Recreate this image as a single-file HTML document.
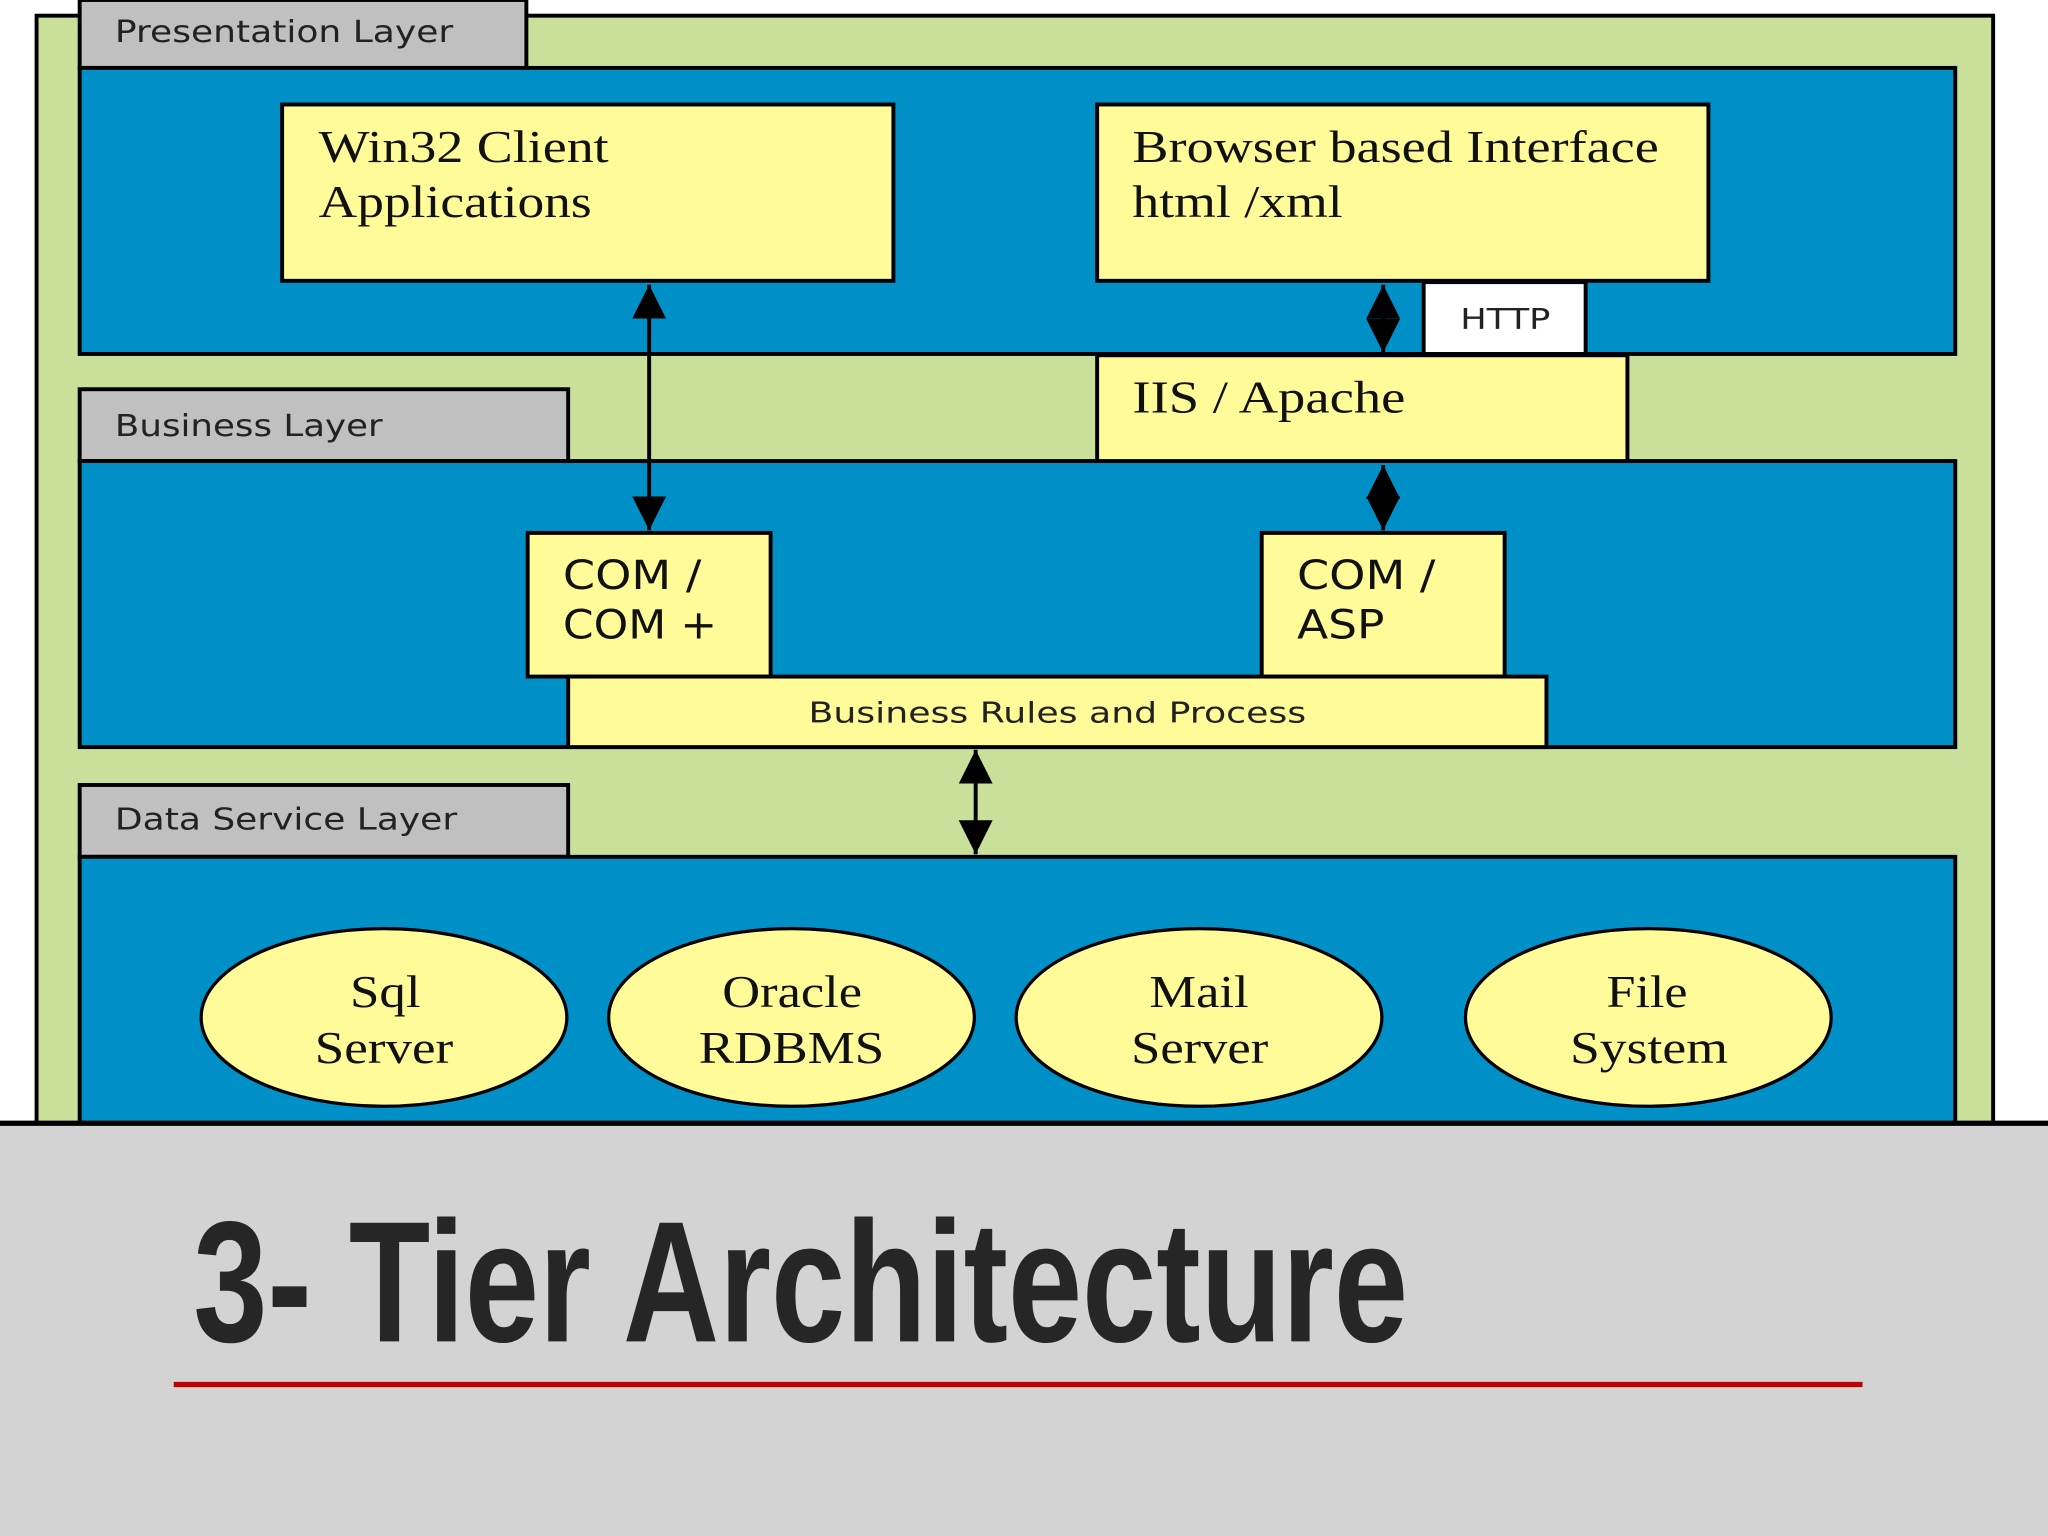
<!DOCTYPE html>
<html><head><meta charset="utf-8"><style>html,body{margin:0;padding:0;width:2048px;height:1536px;overflow:hidden;background:#fff}</style></head>
<body>
<svg width="2048" height="1536" viewBox="0 0 1568 1176" xmlns="http://www.w3.org/2000/svg">
<defs>
<marker id="b" viewBox="0 0 10 10" refX="10" refY="5" markerWidth="26" markerHeight="26" orient="auto-start-reverse" markerUnits="userSpaceOnUse"><path d="M0,0L10,5L0,10z" fill="#000"/></marker>
</defs>
<rect width="1568" height="1176" fill="#fff"/>
<rect x="28" y="12" width="1498" height="860" fill="#c8e09a" stroke="#000" stroke-width="3"/>
<rect x="61" y="0" width="342" height="52" fill="#c0c0c0" stroke="#000" stroke-width="3"/>
<text x="88" y="32" font-family="DejaVu Sans, sans-serif" font-size="23" fill="#222" textLength="259" lengthAdjust="spacingAndGlyphs">Presentation Layer</text>
<rect x="61" y="52" width="1436" height="219" fill="#0090c8" stroke="#000" stroke-width="3"/>
<rect x="216" y="80" width="468" height="135" fill="#fffb98" stroke="#000" stroke-width="3"/>
<g font-family="Liberation Serif, serif" font-size="35" fill="#111">
<text x="244" y="124" textLength="222" lengthAdjust="spacingAndGlyphs">Win32 Client</text>
<text x="244" y="166" textLength="209" lengthAdjust="spacingAndGlyphs">Applications</text>
</g>
<rect x="840" y="80" width="468" height="135" fill="#fffb98" stroke="#000" stroke-width="3"/>
<g font-family="Liberation Serif, serif" font-size="35" fill="#111">
<text x="867" y="124" textLength="403" lengthAdjust="spacingAndGlyphs">Browser based Interface</text>
<text x="867" y="166" textLength="161" lengthAdjust="spacingAndGlyphs">html /xml</text>
</g>
<rect x="1090" y="216" width="124" height="55" fill="#fff" stroke="#000" stroke-width="3"/>
<text x="1118" y="252" font-family="DejaVu Sans, sans-serif" font-size="22" fill="#222" textLength="69" lengthAdjust="spacingAndGlyphs">HTTP</text>
<rect x="61" y="298" width="374" height="55" fill="#c0c0c0" stroke="#000" stroke-width="3"/>
<text x="88" y="334" font-family="DejaVu Sans, sans-serif" font-size="23" fill="#222" textLength="205" lengthAdjust="spacingAndGlyphs">Business Layer</text>
<rect x="61" y="353" width="1436" height="219" fill="#0090c8" stroke="#000" stroke-width="3"/>
<rect x="840" y="272" width="406" height="81" fill="#fffb98" stroke="#000" stroke-width="3"/>
<text x="867" y="316" font-family="Liberation Serif, serif" font-size="35" fill="#111" textLength="209" lengthAdjust="spacingAndGlyphs">IIS / Apache</text>
<rect x="404" y="408" width="186" height="110" fill="#fffb98" stroke="#000" stroke-width="3"/>
<g font-family="DejaVu Sans, sans-serif" font-size="31" fill="#111">
<text x="431" y="451" textLength="106" lengthAdjust="spacingAndGlyphs">COM /</text>
<text x="431" y="489" textLength="118" lengthAdjust="spacingAndGlyphs">COM +</text>
</g>
<rect x="966" y="408" width="186" height="110" fill="#fffb98" stroke="#000" stroke-width="3"/>
<g font-family="DejaVu Sans, sans-serif" font-size="31" fill="#111">
<text x="993" y="451" textLength="106" lengthAdjust="spacingAndGlyphs">COM /</text>
<text x="993" y="489" textLength="67" lengthAdjust="spacingAndGlyphs">ASP</text>
</g>
<rect x="435" y="518" width="749" height="54" fill="#fffb98" stroke="#000" stroke-width="3"/>
<text x="619" y="553" font-family="DejaVu Sans, sans-serif" font-size="22" fill="#222" textLength="381" lengthAdjust="spacingAndGlyphs">Business Rules and Process</text>
<rect x="61" y="601" width="374" height="55" fill="#c0c0c0" stroke="#000" stroke-width="3"/>
<text x="88" y="635" font-family="DejaVu Sans, sans-serif" font-size="23" fill="#222" textLength="262" lengthAdjust="spacingAndGlyphs">Data Service Layer</text>
<rect x="61" y="656" width="1436" height="216" fill="#0090c8" stroke="#000" stroke-width="3"/>
<g fill="#fffb98" stroke="#000" stroke-width="2.5">
<ellipse cx="294" cy="779" rx="140" ry="68"/>
<ellipse cx="606" cy="779" rx="140" ry="68"/>
<ellipse cx="918" cy="779" rx="140" ry="68"/>
<ellipse cx="1262" cy="779" rx="140" ry="68"/>
</g>
<g font-family="Liberation Serif, serif" font-size="35" fill="#111" lengthAdjust="spacingAndGlyphs">
<text x="268" y="771" textLength="54" lengthAdjust="spacingAndGlyphs">Sql</text>
<text x="241" y="814" textLength="106" lengthAdjust="spacingAndGlyphs">Server</text>
<text x="553" y="771" textLength="107" lengthAdjust="spacingAndGlyphs">Oracle</text>
<text x="535" y="814" textLength="142" lengthAdjust="spacingAndGlyphs">RDBMS</text>
<text x="880" y="771" textLength="76" lengthAdjust="spacingAndGlyphs">Mail</text>
<text x="866" y="814" textLength="105" lengthAdjust="spacingAndGlyphs">Server</text>
<text x="1230" y="771" textLength="62" lengthAdjust="spacingAndGlyphs">File</text>
<text x="1202" y="814" textLength="121" lengthAdjust="spacingAndGlyphs">System</text>
</g>
<g stroke="#000" stroke-width="3">
<line x1="497" y1="218" x2="497" y2="406" marker-start="url(#b)" marker-end="url(#b)"/>
<line x1="1059" y1="218" x2="1059" y2="270" marker-start="url(#b)" marker-end="url(#b)"/>
<line x1="1059" y1="356" x2="1059" y2="406" marker-start="url(#b)" marker-end="url(#b)"/>
<line x1="747" y1="574" x2="747" y2="654" marker-start="url(#b)" marker-end="url(#b)"/>
</g>
<rect x="0" y="860" width="1568" height="316" fill="#d3d3d3"/>
<line x1="0" y1="860" x2="1568" y2="860" stroke="#000" stroke-width="4"/>
<text x="148" y="1027" font-family="Liberation Sans, sans-serif" font-weight="bold" font-size="132" fill="#262626" textLength="930" lengthAdjust="spacingAndGlyphs">3- Tier Architecture</text>
<line x1="133" y1="1060" x2="1426" y2="1060" stroke="#c00000" stroke-width="4"/>
</svg>
</body></html>
